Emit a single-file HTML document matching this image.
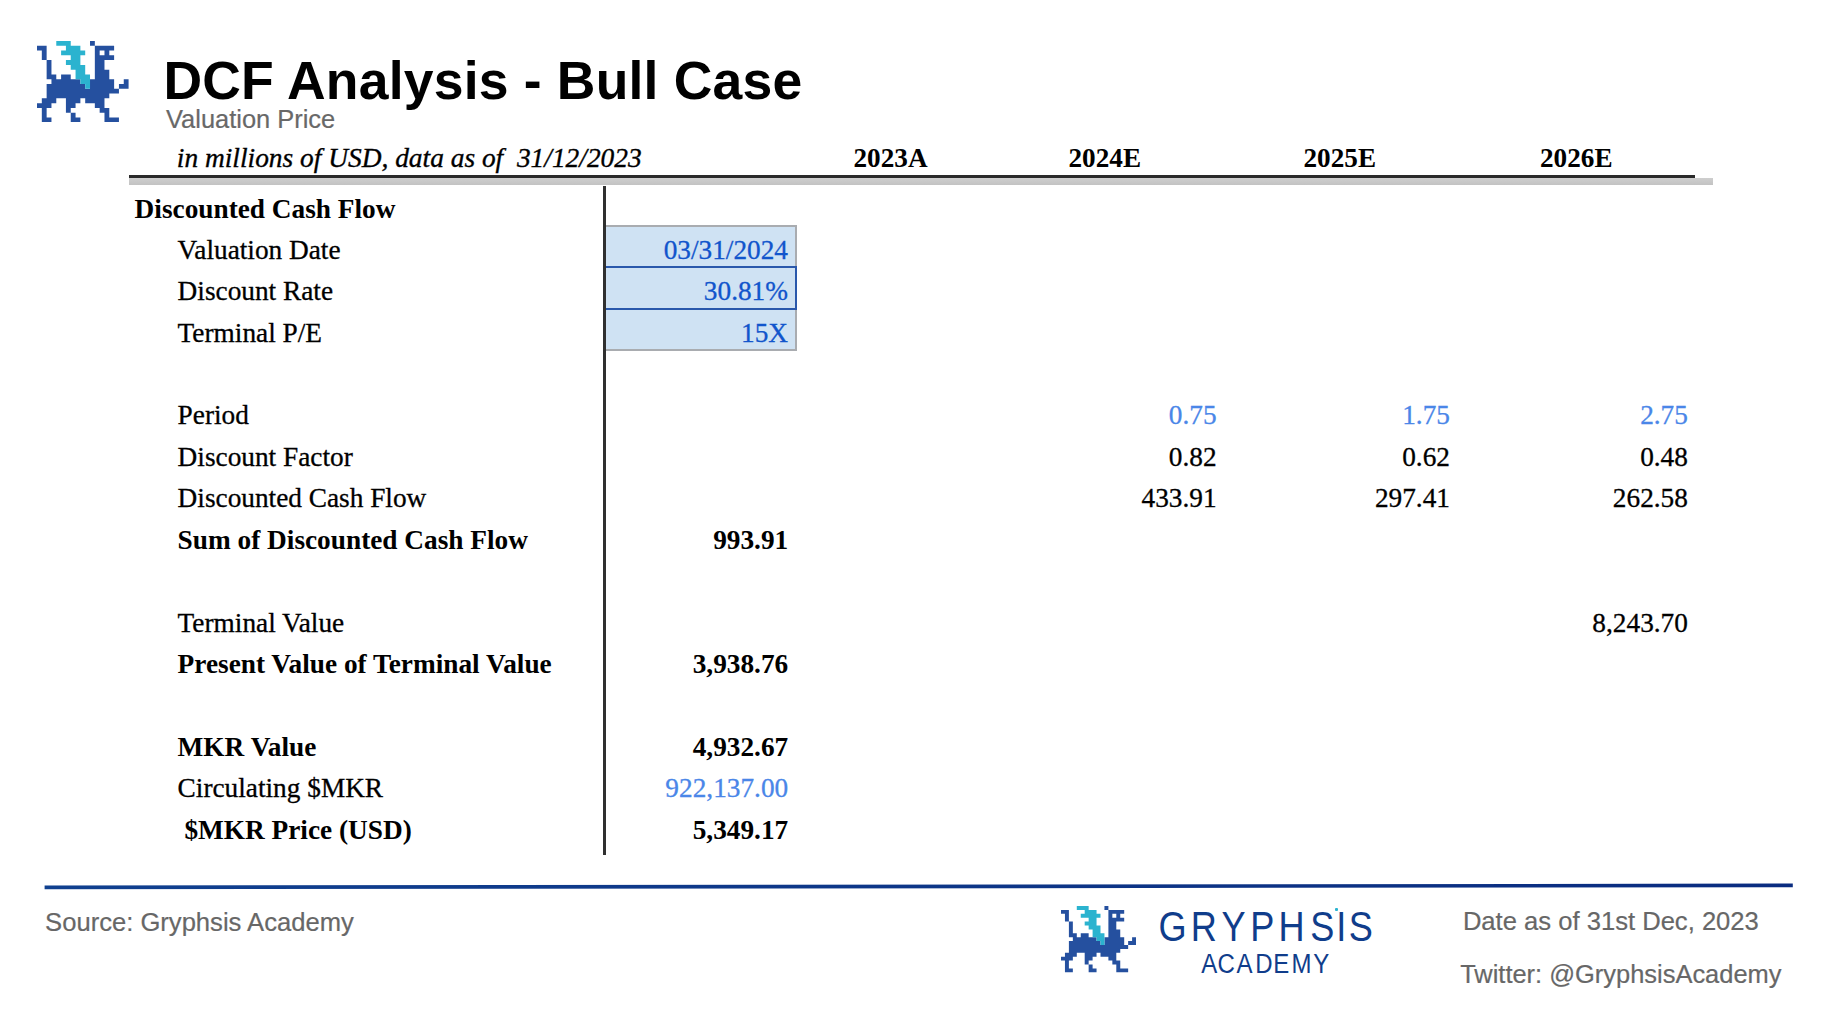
<!DOCTYPE html>
<html lang="en"><head><meta charset="utf-8"><title>DCF Analysis - Bull Case</title>
<style>
html,body{margin:0;padding:0;background:#fff}
body{width:1842px;height:1031px;position:relative;overflow:hidden;font-family:"Liberation Serif",serif;color:#000}
.abs,.logo,.row,.row span,.hd span{position:absolute;white-space:pre}
.title{left:163.4px;top:51.2px;font:bold 53.5px/60px "Liberation Sans",sans-serif;letter-spacing:.2px}
.sub{left:166.2px;top:104px;font:24.9px/30px "Liberation Sans",sans-serif;transform-origin:0 50%;transform:scaleX(1.022);color:#686868;-webkit-text-stroke:.2px #6a6a6a}
.hd{position:absolute;left:0;top:138.3px;width:1842px;height:41.5px;font-size:27.2px;line-height:41.5px}
.hd .it{font-style:italic;left:176.8px;font-size:27.4px}
.hd b{position:absolute}
.rule{left:129px;top:175.3px;width:1566px;height:3px;background:#2a2a2a}
.band{left:129px;top:178.3px;width:1584px;height:7.2px;background:linear-gradient(#cecece,#c3c3c3)}
.vline{left:603px;top:185.5px;width:2.7px;height:669.4px;background:#303030}
.row{left:0;width:1842px;height:41.5px;font-size:27.3px;line-height:41.5px}
.row .v{text-align:right}
.row span,.hd .it{-webkit-text-stroke:.3px currentColor}
.hd .it{-webkit-text-stroke-width:.35px}
.row .b,.b{font-weight:bold;-webkit-text-stroke-width:0}
.lb{color:#4a86e8}
.bx{color:#1155cc}
.cell{box-sizing:border-box;left:605.8px;width:190.8px;background:#cfe2f3;border:2px solid #a9acb0;border-left:none}
.sel{box-sizing:border-box;left:603.4px;width:193.2px;border:2.4px solid #2a58ab;background:#cfe2f3}
.ft{font:25.6px/30px "Liberation Sans",sans-serif;color:#676767;-webkit-text-stroke:.2px #676767}
.brand{font-family:"Liberation Sans",sans-serif;color:#103d8b}
</style></head><body>

<svg class="logo" style="left:37.0px;top:40.7px" width="91.58" height="81.26" viewBox="0 0 19 17" preserveAspectRatio="none"><path fill="#25509f" d="M11 0h1v1h-1zM0 1h2v1h-2zM12 1h4v1h-4zM1 2h1v1h-1zM12 2h1v1h-1zM14 2h1v1h-1zM1 3h1v1h-1zM12 3h4v1h-4zM2 4h1v1h-1zM12 4h2v1h-2zM2 5h1v1h-1zM12 5h2v1h-2zM2 6h1v1h-1zM12 6h3v1h-3zM2 7h2v1h-2zM5 7h2v1h-2zM12 7h3v1h-3zM3 8h6v1h-6zM11 8h5v1h-5zM18 8h1v1h-1zM2 9h8v1h-8zM11 9h5v1h-5zM17 9h2v1h-2zM2 10h15v1h-15zM2 11h13v1h-13zM1 12h3v1h-3zM6 12h3v1h-3zM10 12h4v1h-4zM0 13h3v1h-3zM6 13h2v1h-2zM12 13h2v1h-2zM1 14h1v1h-1zM6 14h1v1h-1zM13 14h2v1h-2zM1 15h1v1h-1zM7 15h1v1h-1zM14 15h1v1h-1zM1 16h2v1h-2zM7 16h2v1h-2zM14 16h3v1h-3z"/><path fill="#2bb3cf" d="M4 0h3v1h-3zM6 1h3v1h-3zM5 2h5v1h-5zM7 3h2v1h-2zM6 4h3v1h-3zM7 5h3v1h-3zM8 6h2v1h-2zM8 7h3v1h-3zM9 8h2v1h-2zM10 9h1v1h-1z"/></svg>
<div class="abs title">DCF Analysis - Bull Case</div>
<div class="abs sub">Valuation Price</div>
<div class="hd"><span class="it">in millions of USD, data as of  31/12/2023</span>
<b style="left:853.5px">2023A</b>
<b style="left:1068.5px">2024E</b>
<b style="left:1303.5px">2025E</b>
<b style="left:1540px">2026E</b>
</div>
<div class="abs rule"></div><div class="abs band"></div>
<div class="abs cell" style="top:225px;height:126.2px"></div>
<div class="abs sel" style="top:266.3px;height:43.4px"></div>
<div class="abs vline"></div>
<div class="row" style="top:189.0px"><span class="b" style="left:134.6px">Discounted Cash Flow</span></div>
<div class="row" style="top:230.0px"><span class="" style="left:177.6px">Valuation Date</span><span class="v bx" style="right:1054.0px">03/31/2024</span></div>
<div class="row" style="top:271.0px"><span class="" style="left:177.6px">Discount Rate</span><span class="v bx" style="right:1054.0px">30.81%</span></div>
<div class="row" style="top:313.0px"><span class="" style="left:177.6px">Terminal P/E</span><span class="v bx" style="right:1054.0px">15X</span></div>
<div class="row" style="top:395.0px"><span class="" style="left:177.6px">Period</span><span class="v lb" style="right:625.4px">0.75</span><span class="v lb" style="right:392.0px">1.75</span><span class="v lb" style="right:154.1px">2.75</span></div>
<div class="row" style="top:437.0px"><span class="" style="left:177.6px">Discount Factor</span><span class="v " style="right:625.4px">0.82</span><span class="v " style="right:392.0px">0.62</span><span class="v " style="right:154.1px">0.48</span></div>
<div class="row" style="top:478.0px"><span class="" style="left:177.6px">Discounted Cash Flow</span><span class="v " style="right:625.4px">433.91</span><span class="v " style="right:392.0px">297.41</span><span class="v " style="right:154.1px">262.58</span></div>
<div class="row" style="top:520.0px"><span class="b" style="left:177.6px">Sum of Discounted Cash Flow</span><span class="v b" style="right:1053.8px">993.91</span></div>
<div class="row" style="top:603.0px"><span class="" style="left:177.6px">Terminal Value</span><span class="v " style="right:154.1px">8,243.70</span></div>
<div class="row" style="top:644.0px"><span class="b" style="left:177.6px">Present Value of Terminal Value</span><span class="v b" style="right:1053.8px">3,938.76</span></div>
<div class="row" style="top:727.0px"><span class="b" style="left:177.6px">MKR Value</span><span class="v b" style="right:1053.8px">4,932.67</span></div>
<div class="row" style="top:768.0px"><span class="" style="left:177.6px">Circulating $MKR</span><span class="v lb" style="right:1053.8px">922,137.00</span></div>
<div class="row" style="top:810.0px"><span class="b" style="left:184.4px">$MKR Price (USD)</span><span class="v b" style="right:1053.8px">5,349.17</span></div>
<svg class="abs" style="left:0;top:870px" width="1842" height="30"><defs><linearGradient id="lg" gradientUnits="userSpaceOnUse" x1="44" y1="0" x2="1793" y2="0"><stop offset="0" stop-color="#10408f"/><stop offset="1" stop-color="#0a2c80"/></linearGradient></defs><line x1="44.6" y1="17.35" x2="1792.8" y2="15.45" stroke="url(#lg)" stroke-width="3.7"/></svg>
<div class="abs ft" style="left:45.1px;top:906.5px">Source: Gryphsis Academy</div>
<svg class="logo" style="left:1061.0px;top:906.3px" width="75.05" height="66.30" viewBox="0 0 19 17" preserveAspectRatio="none"><path fill="#25509f" d="M11 0h1v1h-1zM0 1h2v1h-2zM12 1h4v1h-4zM1 2h1v1h-1zM12 2h1v1h-1zM14 2h1v1h-1zM1 3h1v1h-1zM12 3h4v1h-4zM2 4h1v1h-1zM12 4h2v1h-2zM2 5h1v1h-1zM12 5h2v1h-2zM2 6h1v1h-1zM12 6h3v1h-3zM2 7h2v1h-2zM5 7h2v1h-2zM12 7h3v1h-3zM3 8h6v1h-6zM11 8h5v1h-5zM18 8h1v1h-1zM2 9h8v1h-8zM11 9h5v1h-5zM17 9h2v1h-2zM2 10h15v1h-15zM2 11h13v1h-13zM1 12h3v1h-3zM6 12h3v1h-3zM10 12h4v1h-4zM0 13h3v1h-3zM6 13h2v1h-2zM12 13h2v1h-2zM1 14h1v1h-1zM6 14h1v1h-1zM13 14h2v1h-2zM1 15h1v1h-1zM7 15h1v1h-1zM14 15h1v1h-1zM1 16h2v1h-2zM7 16h2v1h-2zM14 16h3v1h-3z"/><path fill="#2bb3cf" d="M4 0h3v1h-3zM6 1h3v1h-3zM5 2h5v1h-5zM7 3h2v1h-2zM6 4h3v1h-3zM7 5h3v1h-3zM8 6h2v1h-2zM8 7h3v1h-3zM9 8h2v1h-2zM10 9h1v1h-1z"/></svg>
<svg class="abs" style="left:0;top:0" width="1842" height="1031"><text class="brand" transform="scale(0.85,1)" x="1363.09 1400.79 1437.17 1471.01 1504.13 1541.41 1572.17 1586.64" y="940.6" font-size="42.5" fill="#103d8b">GRYPHSIS</text></svg>
<div class="abs" style="left:1334.8px;top:907.8px;width:3.4px;height:3.4px;border-radius:1px;background:#2bb3cf"></div>
<svg class="abs" style="left:0;top:0" width="1842" height="1031"><text class="brand" transform="scale(0.888,1)" x="1352.84 1371.15 1392.48 1413.50 1433.94 1454.26 1479.02" y="973.2" font-size="27" fill="#103d8b">ACADEMY</text></svg>
<div class="abs ft" style="left:1462.9px;top:906px">Date as of 31st Dec, 2023</div>
<div class="abs ft" style="left:1460.2px;top:958.8px;font-size:25.45px">Twitter: @GryphsisAcademy</div>
</body></html>
